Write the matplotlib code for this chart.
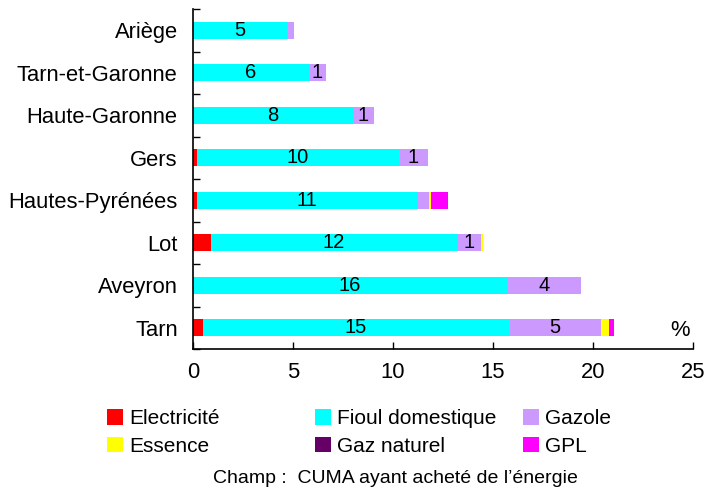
import matplotlib
matplotlib.use("Agg")
import matplotlib.pyplot as plt
from matplotlib.patches import Patch
import numpy as np

plt.rcParams['font.family'] = ['Liberation Sans', 'DejaVu Sans']

categories = ["Ariège", "Tarn-et-Garonne", "Haute-Garonne", "Gers",
              "Hautes-Pyrénées", "Lot", "Aveyron", "Tarn"]
electricite = [0, 0, 0, 0.2, 0.2, 0.9, 0, 0.5]
fioul = [4.7, 5.8, 8.0, 10.1, 11.0, 12.3, 15.7, 15.3]
gazole = [0.35, 0.85, 1.05, 1.45, 0.6, 1.2, 3.7, 4.6]
essence = [0, 0, 0, 0, 0.1, 0.1, 0, 0.4]
gaz_naturel = [0, 0, 0, 0, 0, 0, 0, 0]
gpl = [0, 0, 0, 0, 0.85, 0, 0, 0.25]
fioul_labels = ["5", "6", "8", "10", "11", "12", "16", "15"]
gazole_labels = ["", "1", "1", "1", "", "1", "4", "5"]
xticks = [0, 5, 10, 15, 20, 25]

series = [
    ("Electricité", electricite, "#FF0000"),
    ("Fioul domestique", fioul, "#00FFFF"),
    ("Gazole", gazole, "#CC99FF"),
    ("Essence", essence, "#FFFF00"),
    ("Gaz naturel", gaz_naturel, "#660066"),
    ("GPL", gpl, "#FF00FF"),
]
colors = {name: c for name, _, c in series}

fig = plt.figure(figsize=(7.2, 4.9), dpi=100)
ax = fig.add_axes([193 / 720, 1 - 349 / 490, 500 / 720, 340 / 490])

y = np.arange(len(categories))
left = np.zeros(len(categories))
containers = {}
for name, vals, c in series:
    vals = np.array(vals, dtype=float)
    containers[name] = ax.barh(y, vals, left=left, height=0.4, color=c,
                               edgecolor='none')
    left = left + vals

ax.bar_label(containers["Fioul domestique"], labels=fioul_labels,
             label_type='center', fontsize=14.5)
ax.bar_label(containers["Gazole"], labels=gazole_labels,
             label_type='center', fontsize=14.5)

ax.set_ylim(len(categories) - 0.5, -0.5)
ax.set_xlim(0, 25)
ax.set_yticks(y)
ax.set_yticklabels(categories, fontsize=15.8)
ax.set_yticks(np.arange(len(categories) + 1) - 0.5, minor=True)
ax.tick_params(axis='y', which='major', length=0, pad=11)
ax.tick_params(axis='y', which='minor', direction='in', length=5, width=1)
ax.set_xticks(xticks)
ax.set_xticklabels([str(t) for t in xticks], fontsize=15.8)
ax.tick_params(axis='x', which='major', direction='in', length=5, width=1,
               pad=9)
for s in ['top', 'right']:
    ax.spines[s].set_visible(False)
for s in ['left', 'bottom']:
    ax.spines[s].set_linewidth(1.2)

fig.text(680 / 720, 1 - 330 / 490, "%", fontsize=15.8, ha='center',
         va='center')

legend_cols = [["Electricité", "Essence"],
               ["Fioul domestique", "Gaz naturel"],
               ["Gazole", "GPL"]]
col_x = [107, 315, 523]
for names, xpx in zip(legend_cols, col_x):
    handles = [Patch(facecolor=colors[n], edgecolor='none', label=n)
               for n in names]
    fig.legend(handles=handles, loc='center left',
               bbox_to_anchor=(xpx / 720, 1 - 432.5 / 490),
               frameon=False, fontsize=15, handlelength=0.75,
               handleheight=0.75, handletextpad=0.3, labelspacing=0.4,
               borderpad=0, borderaxespad=0)

fig.text(395 / 720, 1 - 478 / 490, "Champ :  CUMA ayant acheté de l’énergie",
         fontsize=14, ha='center', va='center')

fig.savefig("out.png", dpi=100)
